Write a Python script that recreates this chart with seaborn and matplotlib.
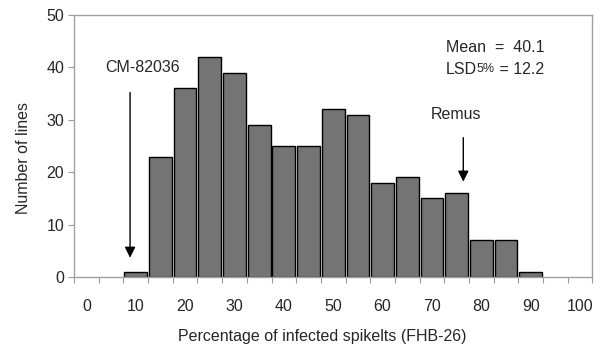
import numpy as np
import pandas as pd
import seaborn as sns
import matplotlib.pyplot as plt

# Histogram classes (percentage of infected spikelets) and counts of lines
categories = list(range(0, 101, 5))
bin_centers = [10, 15, 20, 25, 30, 35, 40, 45, 50, 55, 60, 65, 70, 75, 80, 85, 90]
counts = [1, 23, 36, 42, 39, 29, 25, 25, 32, 31, 18, 19, 15, 16, 7, 7, 1]
x_tick_labels = [str(v) for v in range(0, 101, 10)]
y_ticks = [0, 10, 20, 30, 40, 50]

sns.set_style('white')
plt.rcParams['font.family'] = ['Liberation Sans', 'DejaVu Sans']
FS = 11.5

df = pd.DataFrame({'cls': bin_centers, 'n': counts})

fig = plt.figure(figsize=(6.02, 3.46), dpi=100)
ax = fig.add_axes([0.123, 0.199, 0.861, 0.758])

sns.barplot(data=df, x='cls', y='n', order=categories, color='#747474',
            saturation=1, width=0.92, edgecolor='black', linewidth=1, ax=ax)

ax.set_xlim(-0.5, len(categories) - 0.5)
ax.set_ylim(0, 50)

# labels every other category, tick marks between categories
ax.set_xticks(range(0, len(categories), 2), x_tick_labels)
ax.set_xticks(np.arange(-0.5, len(categories), 1), minor=True)
ax.tick_params(axis='x', which='major', length=0, pad=16, labelsize=FS)
ax.tick_params(axis='x', which='minor', length=4, width=0.8, color='#999999',
               direction='out', bottom=True)
ax.set_yticks(y_ticks)
ax.tick_params(axis='y', length=4, width=0.8, color='#999999',
               direction='out', left=True, labelsize=FS, pad=3)

for s in ax.spines.values():
    s.set_color('#a0a0a0')
    s.set_linewidth(1)

ax.set_xlabel('Percentage of infected spikelts (FHB-26)', fontsize=FS, va='center')
ax.xaxis.set_label_coords(0.478, -0.225)
ax.set_ylabel('Number of lines', fontsize=FS, va='center')
ax.yaxis.set_label_coords(-0.097, 0.455)

# arrows for the parents
arrow = dict(arrowstyle='-|>', color='black', lw=1, mutation_scale=16,
             shrinkA=0, shrinkB=0)
ax.annotate('', xy=(1.77, 3.7), xytext=(1.77, 35.2), arrowprops=arrow)
ax.text(2.26, 40.0, 'CM-82036', ha='center', va='center', fontsize=FS)
ax.annotate('', xy=(15.27, 18.2), xytext=(15.27, 26.6), arrowprops=arrow)
ax.text(14.98, 31.0, 'Remus', ha='center', va='center', fontsize=FS)

# statistics
ax.text(14.55, 43.7, 'Mean  =  40.1', ha='left', va='center', fontsize=FS)
t1 = ax.text(14.55, 39.6, 'LSD', ha='left', va='center', fontsize=FS)
fig.canvas.draw()
bb = t1.get_window_extent()
x1 = ax.transData.inverted().transform((bb.x1, 0))[0]
t2 = ax.text(x1, 39.6, '5%', ha='left', va='center', fontsize=FS - 2.5)
fig.canvas.draw()
bb2 = t2.get_window_extent()
x2 = ax.transData.inverted().transform((bb2.x1, 0))[0]
ax.text(x2, 39.6, ' = 12.2', ha='left', va='center', fontsize=FS)

fig.savefig('out.png', dpi=100)
